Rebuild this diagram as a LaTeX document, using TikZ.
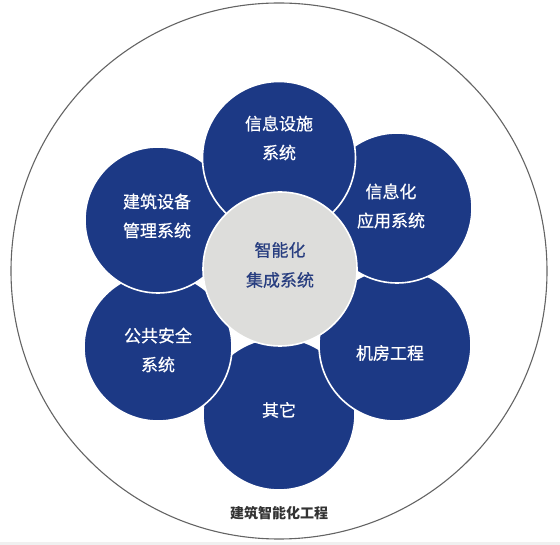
\documentclass[tikz,border=0pt]{standalone}
\usepackage{fontspec}
\setmainfont{Noto Sans CJK SC}
\newfontface\midface{Noto Sans CJK SC}[FakeBold=0.6]
\usepackage{tikz}
\usetikzlibrary{calc}

\definecolor{petal}{RGB}{28,57,133}
\definecolor{core}{RGB}{221,221,219}
\definecolor{coretext}{RGB}{40,62,128}
\definecolor{rim}{RGB}{100,100,100}

\tikzset{
	petal/.style={circle,fill=petal,draw=white,line width=1.6pt,minimum size=#1,inner sep=0pt},
	core/.style={circle,fill=core,draw=white,line width=1.6pt,minimum size=#1,inner sep=0pt},
	label petal/.style={text=white,align=center,font=\midface\fontsize{17}{29}\selectfont},
	label core/.style={text=coretext,align=center,font=\midface\fontsize{17}{30}\selectfont}
}

\begin{document}
\begin{tikzpicture}[x=1pt,y=-1pt]
	\useasboundingbox (0,0) rectangle (560,545);
	\fill[gray!12] (0,542) rectangle (560,545);
	\coordinate (m) at (279,271);
	%outer ring
	\draw[rim,line width=1.1pt] (m) circle[radius=268];
	%petals, bottom first so the upper ones overlap
	\node[petal=152] (p6) at (279,414) {};
	\node[petal=148] (p5) at (158,347) {};
	\node[petal=152] (p4) at (395,345) {};
	\node[petal=146] (p1) at (158,220) {};
	\node[petal=150] (p3) at (397,208) {};
	\node[petal=153] (p2) at (279,158) {};
	%centre
	\node[core=154] (c) at (280,269) {};
	%texts
	\node[label petal] (t2) at (279,138) {信息设施\\系统};
	\node[label petal] (t3) at (391,206) {信息化\\应用系统};
	\node[label petal] (t1) at (157,216) {建筑设备\\管理系统};
	\node[label petal] (t5) at (158,350) {公共安全\\系统};
	\node[label petal] (t4) at (390,353) {机房工程};
	\node[label petal] (t6) at (279,410) {其它};
	\node[label core] (tc) at (280,265) {智能化\\集成系统};
	\node[font=\bfseries\fontsize{14}{14}\selectfont,text=black!80] (title) at (279,513) {建筑智能化工程};
\end{tikzpicture}
\end{document}
